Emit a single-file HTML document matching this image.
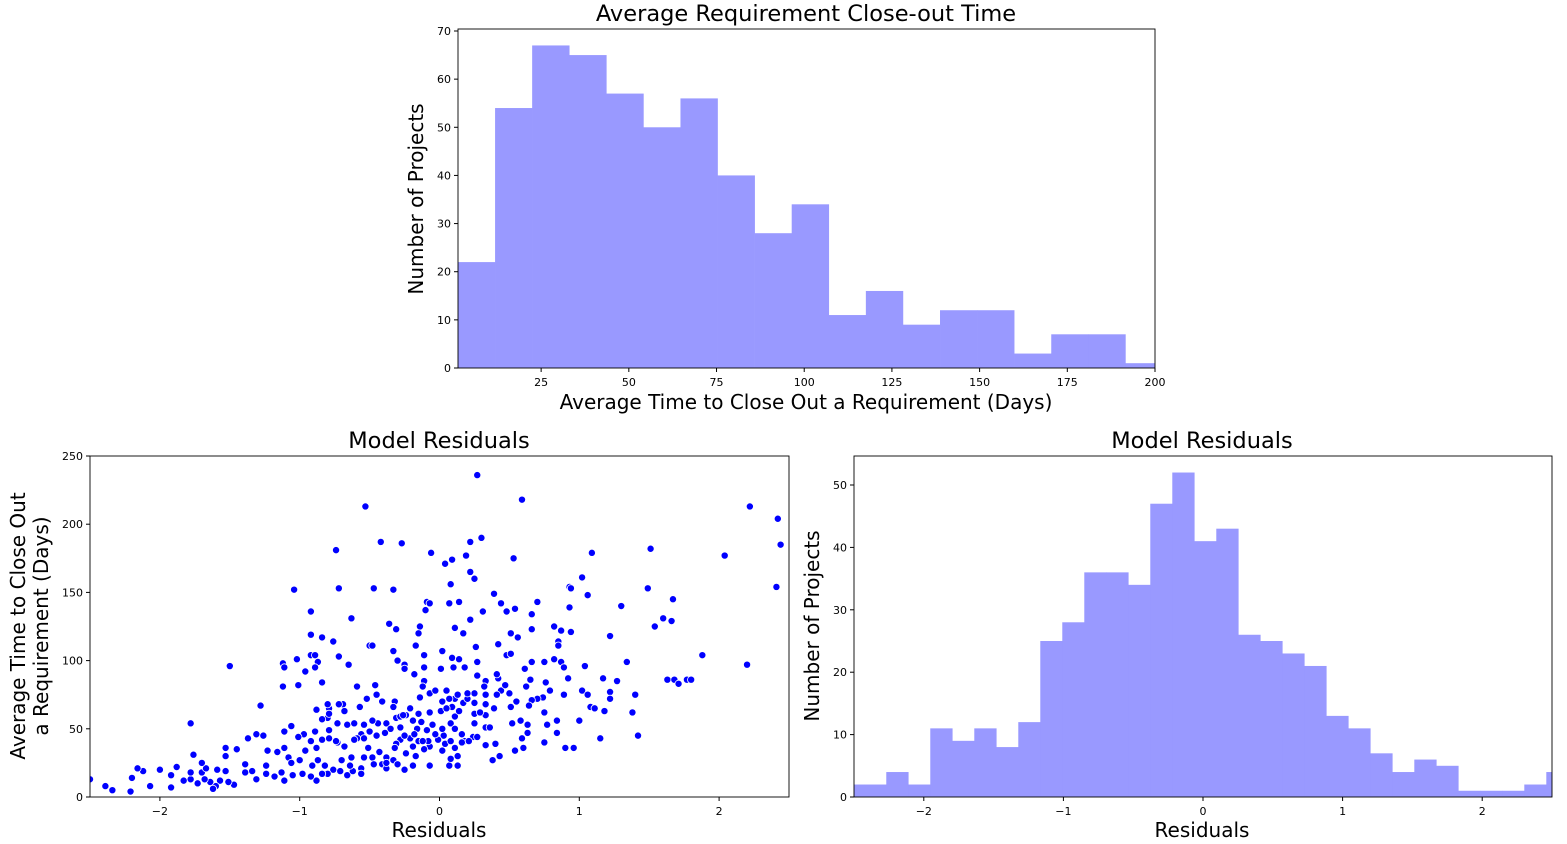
<!DOCTYPE html>
<html><head><meta charset="utf-8"><style>
body{margin:0;background:#fff;}
svg{display:block;font-family:"DejaVu Sans","Liberation Sans",sans-serif;}
.tick{font-size:11px;fill:#000}
.lab{font-size:20px;fill:#000}
.ttl{font-size:22.5px;fill:#000}
</style></head><body>
<svg id="chart" width="1567" height="844" xmlns="http://www.w3.org/2000/svg"></svg>
<script>
// Top histogram data
const topCounts = [22,54,67,65,57,50,56,40,28,34,11,16,9,12,12,3,7,7,1];
const topBinStart = 1.3, topBinWidth = 10.57;
const topXTicks = [25,50,75,100,125,150,175,200];
const topYTicks = [0,10,20,30,40,50,60,70];
// Residual histogram data
const resCounts = [2,2,4,2,11,9,11,8,12,25,28,36,36,34,47,52,41,43,26,25,23,21,13,11,7,4,6,5,1,1,1,2,4,1];
const resBinStart = -2.584, resBinWidth = 0.1576;
const resXTicks = [-2,-1,0,1,2];
const resYTicks = [0,10,20,30,40,50];
// Scatter data
const scX = [0.27,-0.53,0.59,2.22,2.42,2.44,2.41,2.04,2.20,0.30,0.22,-0.42,-0.27,-0.74,-0.06,0.19,0.09,0.04,0.53,1.09,1.51,0.22,0.25,0.08,1.02,0.93,0.94,1.06,1.49,1.67,-1.04,-0.72,-0.47,-0.33,-0.09,-0.07,0.07,0.14,0.39,0.44,0.54,0.48,0.70,0.66,0.93,1.30,0.31,0.22,-0.10,-0.92,-0.63,-0.36,-0.31,-0.14,-0.15,0.11,0.17,0.82,0.87,0.94,0.66,0.51,0.56,1.22,1.60,1.66,1.54,-0.92,-0.84,-0.76,-0.50,-0.48,-0.33,-0.17,0.02,0.26,0.42,0.85,0.85,1.88,-0.92,-0.89,-0.87,-0.89,-0.96,-1.02,-1.12,-1.11,-0.72,-0.65,-0.30,-0.25,-0.25,-0.11,-0.18,-0.11,0.01,0.09,0.14,0.18,0.10,0.27,0.27,0.48,0.51,0.61,0.66,0.75,0.82,0.87,0.89,1.04,1.34,1.63,1.68,1.71,1.77,1.80,1.17,1.27,0.92,0.76,0.65,0.62,0.79,0.74,0.70,0.89,1.02,1.06,1.08,1.11,1.22,1.22,1.40,1.18,1.38,1.42,1.15,1.00,0.96,0.90,0.84,0.84,0.77,0.75,0.75,0.66,0.64,0.58,0.63,0.63,0.59,0.60,0.54,0.52,0.51,0.55,0.50,0.44,0.41,0.47,0.42,0.41,0.33,0.32,0.33,0.33,0.33,0.39,0.33,0.33,0.40,0.38,0.43,0.25,0.25,0.25,0.25,0.24,0.27,0.18,0.16,0.11,0.13,0.13,0.07,0.08,0.02,0.04,0.03,0.02,0.08,0.11,0.11,0.14,0.17,0.20,0.11,0.09,0.05,0.02,0.01,-0.07,-0.07,-0.03,-0.11,-0.12,-0.14,-0.15,-0.13,-0.21,-0.24,-0.19,-0.16,-0.21,-0.19,-0.15,-0.09,-0.07,-0.01,-0.11,-0.07,-0.17,-0.19,-0.25,-0.24,-0.28,-0.28,-0.31,-0.28,-0.26,-0.32,-0.33,-0.41,-0.45,-0.46,-0.52,-0.57,-0.59,-0.69,-0.72,-0.68,-0.79,-0.80,-0.88,-0.84,-1.01,-1.12,-1.28,-1.50,-1.78,-0.73,-0.66,-0.61,-0.54,-0.44,-0.38,-0.35,-0.39,-0.45,-0.50,-0.56,-0.59,-0.61,-0.68,-0.73,-0.79,-0.84,-0.89,-0.92,-0.88,-0.80,-0.79,-0.84,-0.79,-0.97,-1.01,-1.06,-1.11,-1.16,-1.11,-1.08,-1.06,-1.00,-0.96,-0.91,-0.87,-0.88,-0.92,-0.98,-1.05,-1.11,-1.13,-1.18,-1.24,-1.24,-1.23,-1.31,-1.34,-1.39,-1.39,-1.45,-1.37,-1.31,-1.26,-1.53,-1.53,-1.59,-1.53,-1.47,-1.51,-1.57,-1.60,-1.64,-1.62,-1.68,-1.70,-1.67,-1.70,-1.73,-1.78,-1.78,-1.76,-1.83,-1.88,-1.92,-1.92,-2.00,-2.07,-2.12,-2.16,-2.20,-2.21,-2.34,-2.39,-2.50,-0.70,-0.76,-0.71,-0.66,-0.62,-0.64,-0.56,-0.56,-0.63,-0.54,-0.48,-0.43,-0.38,-0.47,-0.41,-0.38,-0.33,-0.30,-0.31,-0.25,-0.54,-0.51,-0.74,-0.82,-0.80,-0.84,-0.48,-0.38,-0.32,-0.08,-0.05,0.05,0.16,0.21,0.08,-0.03,0.07,0.13,0.20,0.29,0.36,-0.18,-0.12];
const scY = [236,213,218,213,204,185,154,177,97,190,187,187,186,181,179,177,174,171,175,179,182,165,160,156,161,154,153,148,153,145,152,153,153,152,143,142,142,143,149,142,138,136,143,134,139,140,136,130,137,136,131,127,123,125,120,124,120,125,122,121,123,120,117,118,131,129,125,119,117,114,111,111,107,111,107,110,112,114,111,104,104,104,99,95,92,101,98,95,103,97,100,97,94,104,90,95,94,102,101,95,95,99,89,104,105,94,99,99,101,99,95,96,99,86,86,83,86,86,87,85,87,84,86,81,78,73,72,75,78,75,66,65,77,72,75,63,62,45,43,56,36,36,47,56,53,62,40,71,67,56,53,47,43,36,34,54,66,70,76,78,75,82,87,90,85,81,75,68,60,65,51,38,39,27,30,76,69,61,54,44,44,41,40,36,30,23,23,28,34,39,45,50,54,50,59,63,69,72,72,66,78,70,63,76,62,78,85,81,73,61,55,65,60,56,50,43,37,41,49,37,42,35,23,30,23,20,32,42,51,58,59,60,70,66,70,75,82,72,66,81,68,68,63,65,68,64,84,82,81,67,96,54,54,53,54,53,54,54,50,47,45,48,46,43,42,37,40,43,42,48,41,36,58,61,57,49,46,44,52,48,33,36,29,25,27,34,23,27,12,15,17,16,12,18,15,17,23,34,13,19,24,18,35,43,46,45,36,30,20,19,9,11,12,8,11,6,13,18,21,25,10,13,18,31,12,22,16,7,20,8,19,21,14,4,5,8,13,27,20,19,16,19,23,21,17,29,29,29,33,29,24,24,21,27,24,39,45,43,36,41,23,17,17,56,25,36,41,53,65,46,41,41,46,72,75,76,62,51,46,41];
const scXTicks = [-2,-1,0,1,2];
const scYTicks = [0,50,100,150,200,250];

const NS="http://www.w3.org/2000/svg";
const svg=document.getElementById('chart');
function mk(tag,attrs,parent){const e=document.createElementNS(NS,tag);for(const k in attrs)e.setAttribute(k,attrs[k]);(parent||svg).appendChild(e);return e;}
function txt(s,x,y,cls,anchor,parent,rot){const t=mk('text',{x:x,y:y,class:cls,'text-anchor':anchor||'middle'},parent);if(rot)t.setAttribute('transform','rotate(-90 '+x+' '+y+')');t.textContent=s;return t;}
function scale(d0,d1,r0,r1){return v=>r0+(v-d0)/(d1-d0)*(r1-r0);}

function axesFrame(g,L,T,R,B,clipId){
  const cp=mk('clipPath',{id:clipId},g);mk('rect',{x:L,y:T,width:R-L,height:B-T},cp);
  const f=mk('rect',{x:L,y:T,width:R-L,height:B-T,fill:'none',stroke:'#000','stroke-width':0.9},g);
  
  
}

// ---------- Top histogram ----------
(function(){
  const L=458,T=29,R=1155,B=368;
  const g=mk('g',{});
  
  
  const x=scale(topBinStart,200,L,R), y=scale(0,70,B,31);
  const bars=mk('g',{'clip-path':'url(#c1)'},g);
  topCounts.forEach((c,i)=>{
    const x0=x(topBinStart+i*topBinWidth), x1=x(topBinStart+(i+1)*topBinWidth);
    const r=mk('rect',{x:x0,y:y(c),width:x1-x0+0.3,height:B-y(c),fill:'#9999ff'},bars);
    
    
  });
  axesFrame(g,L,T,R,B,'c1');
  topXTicks.forEach(v=>{mk('line',{x1:x(v),x2:x(v),y1:B,y2:B+4,stroke:'#000'},g);const t=txt(String(v),x(v),B+18,'tick','middle',g);});
  topYTicks.forEach(v=>{mk('line',{x1:L-4,x2:L,y1:y(v),y2:y(v),stroke:'#000'},g);const t=txt(String(v),L-7,y(v)+4,'tick','end',g);});
  let t=txt('Average Requirement Close-out Time',806,21,'ttl','middle',g);
  t=txt('Average Time to Close Out a Requirement (Days)',806,409,'lab','middle',g);
  t=txt('Number of Projects',423,199,'lab','middle',g,true);
})();

// ---------- Scatter ----------
(function(){
  const L=90,T=456,R=789,B=797;
  const g=mk('g',{});
  
  
  const x=scale(-2.5,2.5,L,R), y=scale(0,250,B,T);
  const pts=mk('g',{'clip-path':'url(#c2)'},g);
  axesFrame(g,L,T,R,B,'c2');
  scX.forEach((v,i)=>{
    const c=mk('circle',{cx:x(v),cy:y(scY[i]),r:3.6,fill:'#0000ff',stroke:'#fff','stroke-width':0.8},pts);
    
    
  });
  scXTicks.forEach(v=>{mk('line',{x1:x(v),x2:x(v),y1:B,y2:B+4,stroke:'#000'},g);const t=txt(String(v).replace('-','\u2212'),x(v),B+18,'tick','middle',g);});
  scYTicks.forEach(v=>{mk('line',{x1:L-4,x2:L,y1:y(v),y2:y(v),stroke:'#000'},g);const t=txt(String(v),L-7,y(v)+4,'tick','end',g);});
  let t=txt('Model Residuals',439,448,'ttl','middle',g);
  t=txt('Residuals',439,837,'lab','middle',g);
  t=txt('Average Time to Close Out',25,626,'lab','middle',g,true);
  t=txt('a Requirement (Days)',48,626,'lab','middle',g,true);
})();

// ---------- Residual histogram ----------
(function(){
  const L=854,T=456,R=1552,B=797;
  const g=mk('g',{});
  
  
  const x=scale(-2.5,2.5,L,R), y=scale(0,50,B,485);
  const bars=mk('g',{'clip-path':'url(#c3)'},g);
  resCounts.forEach((c,i)=>{
    const x0=x(resBinStart+i*resBinWidth), x1=x(resBinStart+(i+1)*resBinWidth);
    const r=mk('rect',{x:x0,y:y(c),width:x1-x0+0.3,height:B-y(c),fill:'#9999ff'},bars);
    
    
  });
  axesFrame(g,L,T,R,B,'c3');
  resXTicks.forEach(v=>{mk('line',{x1:x(v),x2:x(v),y1:B,y2:B+4,stroke:'#000'},g);const t=txt(String(v).replace('-','\u2212'),x(v),B+18,'tick','middle',g);});
  resYTicks.forEach(v=>{mk('line',{x1:L-4,x2:L,y1:y(v),y2:y(v),stroke:'#000'},g);const t=txt(String(v),L-7,y(v)+4,'tick','end',g);});
  let t=txt('Model Residuals',1202,448,'ttl','middle',g);
  t=txt('Residuals',1202,837,'lab','middle',g);
  t=txt('Number of Projects',819,626,'lab','middle',g,true);
})();
</script>
</body></html>
